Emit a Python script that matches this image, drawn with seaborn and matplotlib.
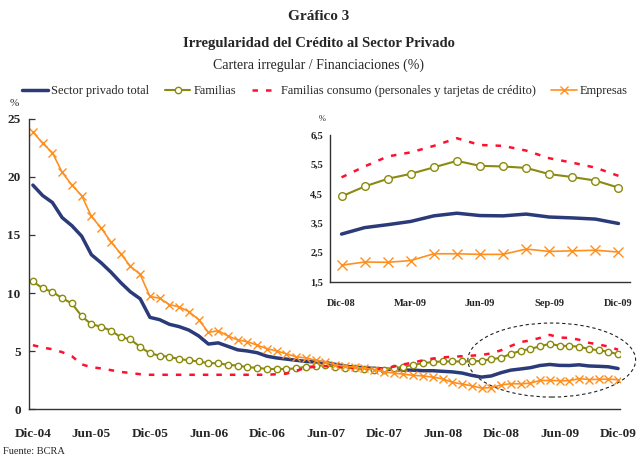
import numpy as np
import pandas as pd
import matplotlib
matplotlib.use("Agg")
import matplotlib.pyplot as plt
from matplotlib.patches import Ellipse
from matplotlib.ticker import FixedLocator
import seaborn as sns

# Datos mensuales Dic-04 .. Dic-09 (%)
meses = pd.date_range("2004-12-01", "2009-12-01", freq="MS")

sector_total = [19.3, 18.4, 17.8, 16.5, 15.8, 14.9, 13.3, 12.6, 11.8, 10.9, 10.1, 9.5,
                7.9, 7.7, 7.3, 7.1, 6.8, 6.3, 5.6, 5.7, 5.4, 5.1, 5.0, 4.85,
                4.55, 4.4, 4.3, 4.2, 4.1, 4.05, 4.0, 3.85, 3.7, 3.6, 3.55, 3.5,
                3.45, 3.4, 3.35, 3.35, 3.3, 3.3, 3.25, 3.2, 3.1, 2.9, 2.75, 2.85,
                3.13, 3.35, 3.45, 3.56, 3.75, 3.84, 3.76, 3.75, 3.81, 3.71, 3.68, 3.64, 3.49]

familias = [11.0, 10.4, 10.1, 9.55, 9.1, 8.0, 7.3, 7.1, 6.75, 6.2, 6.0, 5.35,
            4.8, 4.6, 4.5, 4.3, 4.2, 4.1, 3.95, 3.95, 3.8, 3.75, 3.6, 3.55,
            3.45, 3.45, 3.45, 3.5, 3.65, 3.7, 3.8, 3.6, 3.55, 3.5, 3.45, 3.4,
            3.4, 3.5, 3.65, 3.8, 3.95, 4.05, 4.1, 4.1, 4.1, 4.1, 4.15, 4.3,
            4.41, 4.75, 5.01, 5.18, 5.40, 5.62, 5.45, 5.43, 5.38, 5.17, 5.07, 4.95, 4.71]

familias_consumo = [5.5, 5.3, 5.15, 4.9, 4.55, 3.85, 3.6, 3.5, 3.35, 3.2, 3.1, 3.0,
                    2.95, 2.95, 2.95, 2.95, 2.95, 2.95, 2.95, 2.95, 2.95, 2.95, 2.95, 2.95,
                    2.95, 3.0, 3.05, 3.3, 3.55, 3.65, 3.7, 3.65, 3.6, 3.55, 3.5, 3.45,
                    3.5, 3.65, 3.85, 4.0, 4.2, 4.35, 4.45, 4.5, 4.55, 4.6, 4.65, 4.8,
                    5.06, 5.43, 5.77, 5.91, 6.13, 6.39, 6.16, 6.13, 5.97, 5.71, 5.56, 5.39, 5.11]

empresas = [23.9, 22.9, 22.1, 20.4, 19.3, 18.4, 16.6, 15.6, 14.4, 13.4, 12.3, 11.6,
            9.7, 9.55, 9.0, 8.8, 8.4, 7.7, 6.6, 6.75, 6.3, 5.95, 5.8, 5.5,
            5.2, 5.0, 4.75, 4.5, 4.4, 4.2, 4.05, 3.8, 3.7, 3.6, 3.5, 3.4,
            3.2, 3.1, 3.0, 2.9, 2.85, 2.75, 2.6, 2.3, 2.15, 2.0, 1.8, 1.85,
            2.07, 2.18, 2.17, 2.23, 2.46, 2.46, 2.44, 2.44, 2.62, 2.54, 2.56, 2.58, 2.52]

etiquetas_main = ["Dic-04", "Jun-05", "Dic-05", "Jun-06", "Dic-06", "Jun-07",
                  "Dic-07", "Jun-08", "Dic-08", "Jun-09", "Dic-09"]
etiquetas_inset = ["Dic-08", "Mar-09", "Jun-09", "Sep-09", "Dic-09"]

NAVY = "#2B3A78"
OLIVE = "#8A8A12"
RED = "#FF1030"
ORANGE = "#FF9020"
FILL = "#FFFFF4"

sns.set_style("white")
plt.rcParams["font.family"] = ["Liberation Serif", "DejaVu Serif"]

fig = plt.figure(figsize=(6.37, 4.59), dpi=100)
ax = fig.add_axes([29 / 637, 50 / 459, 591 / 637, 290 / 459])

x = np.arange(len(meses))


def dibujar(a, xs, sl, ms_o, ms_x, lw_tot):
    sns.lineplot(x=xs, y=np.array(sector_total)[sl], ax=a, color=NAVY, lw=lw_tot,
                 label="Sector privado total")
    sns.lineplot(x=xs, y=np.array(familias)[sl], ax=a, color=OLIVE, lw=1.5, marker="o",
                 ms=ms_o, markerfacecolor=FILL, markeredgecolor=OLIVE, markeredgewidth=1.0,
                 label="Familias")
    sns.lineplot(x=xs, y=np.array(familias_consumo)[sl], ax=a, color=RED, lw=1.8,
                 dashes=(2.2, 3.2), label="Familias consumo (personales y tarjetas de crédito)")
    sns.lineplot(x=xs, y=np.array(empresas)[sl], ax=a, color=ORANGE, lw=1.2, marker="x",
                 ms=ms_x, markeredgewidth=1.0, markeredgecolor=ORANGE, label="Empresas")


dibujar(ax, x, slice(None), 4.6, 5.5, 2.5)
ax.set_xlim(-0.4, 60.2)
ax.set_ylim(0, 25)
ax.set_yticks([0, 5, 10, 15, 20, 25])
ax.set_xticks(np.arange(0, 61, 6))
ax.set_xticklabels(etiquetas_main)
ax.xaxis.set_minor_locator(FixedLocator(np.arange(0, 61, 6) - 0.42))
ax.tick_params(axis="x", which="major", length=0, pad=14, labelsize=9.5)
ax.tick_params(axis="x", which="minor", direction="in", length=4, width=0.9, color="#333333")
ax.tick_params(axis="y", direction="in", length=4, width=0.9, color="#333333", pad=6, labelsize=9.5, left=True)
for lbl in ax.get_xticklabels() + ax.get_yticklabels():
    lbl.set_fontweight("bold")
for s in ["top", "right"]:
    ax.spines[s].set_visible(False)
for s in ["left", "bottom"]:
    ax.spines[s].set_color("#333333")
    ax.spines[s].set_linewidth(1.0)
ax.set_xlabel("")
ax.set_ylabel("")
handles, labels = ax.get_legend_handles_labels()
ax.get_legend().remove()

ax.add_patch(Ellipse((53.2, 4.22), 17.2, 6.38, fill=False, ls=(0, (3, 2.5)),
                     lw=0.8, ec="#222222", clip_on=False))

# recuadro Dic-08 .. Dic-09
axi = fig.add_axes([330 / 637, 177 / 459, 300 / 637, 147 / 459])
xi = np.arange(13)
dibujar(axi, xi, slice(48, 61), 5.5, 7, 2.5)
axi.get_legend().remove()
axi.set_xlim(-0.5, 12.5)
axi.set_ylim(1.5, 6.5)
yt = [1.5, 2.5, 3.5, 4.5, 5.5, 6.5]
axi.set_yticks(yt)
axi.set_yticklabels([f"{v:.1f}".replace(".", ",") for v in yt])
axi.set_xticks([0, 3, 6, 9, 12])
axi.set_xticklabels(etiquetas_inset)
axi.xaxis.set_minor_locator(FixedLocator([-0.5, 2.5, 5.5, 8.5, 11.5]))
axi.tick_params(axis="x", which="major", length=0, pad=12, labelsize=7.5)
axi.tick_params(axis="x", which="minor", direction="in", length=4, width=0.9, color="#333333")
axi.tick_params(axis="y", direction="in", length=0, pad=5, labelsize=7.5)
for lbl in axi.get_xticklabels() + axi.get_yticklabels():
    lbl.set_fontweight("bold")
for s in ["top", "right"]:
    axi.spines[s].set_visible(False)
for s in ["left", "bottom"]:
    axi.spines[s].set_color("#333333")
    axi.spines[s].set_linewidth(1.0)
axi.set_xlabel("")
axi.set_ylabel("")

# titulos y textos
fig.text(0.5, 1 - 17 / 459, "Gráfico 3", ha="center", va="center", fontsize=11, fontweight="bold")
fig.text(0.5, 1 - 44 / 459, "Irregularidad del Crédito al Sector Privado", ha="center", va="center",
         fontsize=10.5, fontweight="bold")
fig.text(0.5, 1 - 65 / 459, "Cartera irregular / Financiaciones (%)", ha="center", va="center",
         fontsize=10)
fig.text(14 / 637, 1 - 104 / 459, "%", ha="center", va="center", fontsize=8)
fig.text(322 / 637, 1 - 119 / 459, "%", ha="center", va="center", fontsize=6)
fig.text(3 / 637, 1 - 452 / 459, "Fuente: BCRA", ha="left", va="center", fontsize=7.5)

fig.legend(handles, labels, loc="center", bbox_to_anchor=(325 / 637, 1 - 91 / 459), ncol=4,
           frameon=False, fontsize=8.9, handlelength=2.1, handletextpad=0.25, columnspacing=1.25,
           borderaxespad=0, borderpad=0)

fig.savefig("out.png", dpi=100)
